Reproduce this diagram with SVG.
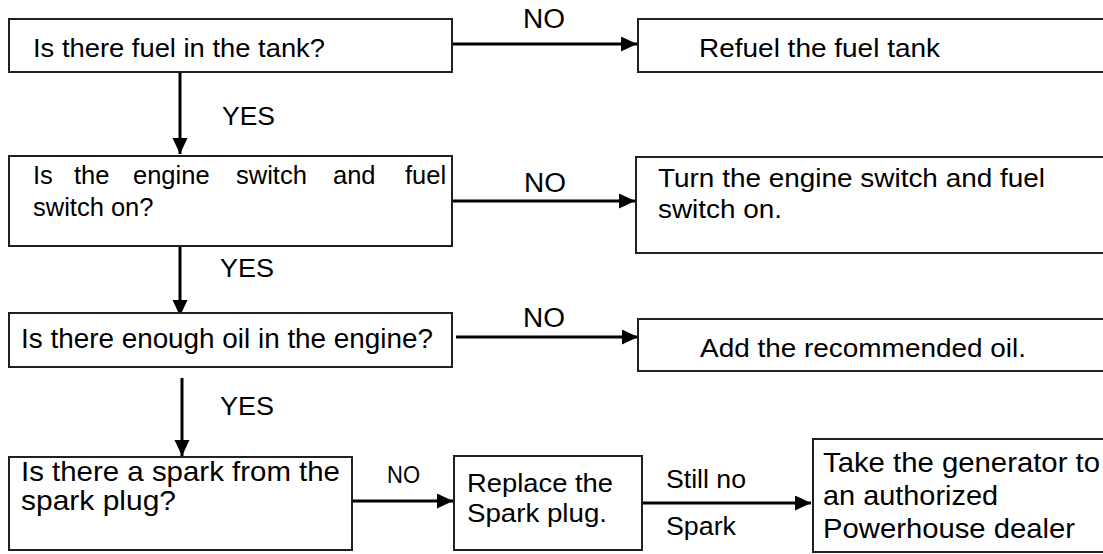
<svg xmlns="http://www.w3.org/2000/svg" width="1103" height="554" viewBox="0 0 1103 554">
<defs>
<style>
.box{fill:#fff;stroke:#231f20;stroke-width:2}
.t{font-family:"Liberation Sans",Arial,sans-serif;fill:#000}
.c{stroke:#000;stroke-width:3;fill:none}
</style>
<marker id="ah" markerUnits="userSpaceOnUse" markerWidth="17" markerHeight="16" refX="16" refY="7.5" orient="auto" viewBox="0 0 17 16">
<path d="M0,0 L16,7.5 L0,15 z" fill="#000"/>
</marker>
</defs>
<rect width="1103" height="554" fill="#fff"/>
<g id="connectors">
<line class="c" x1="180" y1="72" x2="180" y2="154" marker-end="url(#ah)"/>
<line class="c" x1="180" y1="246" x2="180" y2="316" marker-end="url(#ah)"/>
<line class="c" x1="182" y1="378" x2="182" y2="456" marker-end="url(#ah)"/>
<line class="c" x1="453" y1="44" x2="637" y2="44" marker-end="url(#ah)"/>
<line class="c" x1="452" y1="201" x2="635" y2="201" marker-end="url(#ah)"/>
<line class="c" x1="456" y1="337" x2="638" y2="337" marker-end="url(#ah)"/>
<line class="c" x1="353" y1="501" x2="453" y2="501" marker-end="url(#ah)"/>
<line class="c" x1="642" y1="503" x2="811" y2="503" marker-end="url(#ah)"/>
<text class="t" x="523" y="28" font-size="27" textLength="42" lengthAdjust="spacingAndGlyphs">NO</text>
<text class="t" x="524" y="192" font-size="27" textLength="42" lengthAdjust="spacingAndGlyphs">NO</text>
<text class="t" x="523" y="327" font-size="27" textLength="42" lengthAdjust="spacingAndGlyphs">NO</text>
<text class="t" x="387" y="483" font-size="23" textLength="33" lengthAdjust="spacingAndGlyphs">NO</text>
<text class="t" x="222" y="125" font-size="25" textLength="53" lengthAdjust="spacingAndGlyphs">YES</text>
<text class="t" x="220" y="277" font-size="25" textLength="54" lengthAdjust="spacingAndGlyphs">YES</text>
<text class="t" x="220" y="415" font-size="25" textLength="54" lengthAdjust="spacingAndGlyphs">YES</text>
<text class="t" x="666" y="488" font-size="25.5" textLength="80" lengthAdjust="spacingAndGlyphs">Still no</text>
<text class="t" x="666" y="535" font-size="25.5" textLength="70" lengthAdjust="spacingAndGlyphs">Spark</text>
</g>
<g id="q1">
<rect class="box" x="9" y="19" width="443" height="53"/>
<text class="t" x="33" y="57" font-size="26" textLength="292" lengthAdjust="spacingAndGlyphs">Is there fuel in the tank?</text>
</g>
<g id="a1">
<rect class="box" x="638" y="19" width="480" height="53"/>
<text class="t" x="699" y="57" font-size="26.5" textLength="241" lengthAdjust="spacingAndGlyphs">Refuel the fuel tank</text>
</g>
<g id="q2">
<rect class="box" x="9" y="156" width="443" height="90"/>
<text class="t" y="184" font-size="25.5"><tspan x="33">Is</tspan><tspan x="74">the</tspan><tspan x="133">engine</tspan><tspan x="236">switch</tspan><tspan x="333">and</tspan><tspan x="405">fuel</tspan></text>
<text class="t" x="33" y="216" font-size="25.5">switch on?</text>
</g>
<g id="a2">
<rect class="box" x="636" y="157" width="480" height="96"/>
<text class="t" x="658" y="187" font-size="26.5" textLength="387" lengthAdjust="spacingAndGlyphs">Turn the engine switch and fuel</text>
<text class="t" x="658" y="218" font-size="26.5" textLength="124" lengthAdjust="spacingAndGlyphs">switch on.</text>
</g>
<g id="q3">
<rect class="box" x="9" y="313" width="443" height="54"/>
<text class="t" x="21" y="348" font-size="27" textLength="412" lengthAdjust="spacingAndGlyphs">Is there enough oil in the engine?</text>
</g>
<g id="a3">
<rect class="box" x="638" y="319" width="480" height="52"/>
<text class="t" x="700" y="357" font-size="26.5" textLength="326" lengthAdjust="spacingAndGlyphs">Add the recommended oil.</text>
</g>
<g id="q4">
<rect class="box" x="9" y="457" width="343" height="93"/>
<text class="t" x="21" y="481" font-size="28" textLength="319" lengthAdjust="spacingAndGlyphs">Is there a spark from the</text>
<text class="t" x="21" y="510" font-size="28" textLength="155" lengthAdjust="spacingAndGlyphs">spark plug?</text>
</g>
<g id="a4">
<rect class="box" x="454" y="456" width="188" height="94"/>
<text class="t" x="467" y="492" font-size="26" textLength="146" lengthAdjust="spacingAndGlyphs">Replace the</text>
<text class="t" x="467" y="522" font-size="26" textLength="140" lengthAdjust="spacingAndGlyphs">Spark plug.</text>
</g>
<g id="a5">
<rect class="box" x="813" y="439" width="320" height="113"/>
<text class="t" x="823" y="472" font-size="27.5" textLength="277" lengthAdjust="spacingAndGlyphs">Take the generator to</text>
<text class="t" x="823" y="505" font-size="27.5" textLength="175" lengthAdjust="spacingAndGlyphs">an authorized</text>
<text class="t" x="823" y="538" font-size="27.5" textLength="252" lengthAdjust="spacingAndGlyphs">Powerhouse dealer</text>
</g>
</svg>
